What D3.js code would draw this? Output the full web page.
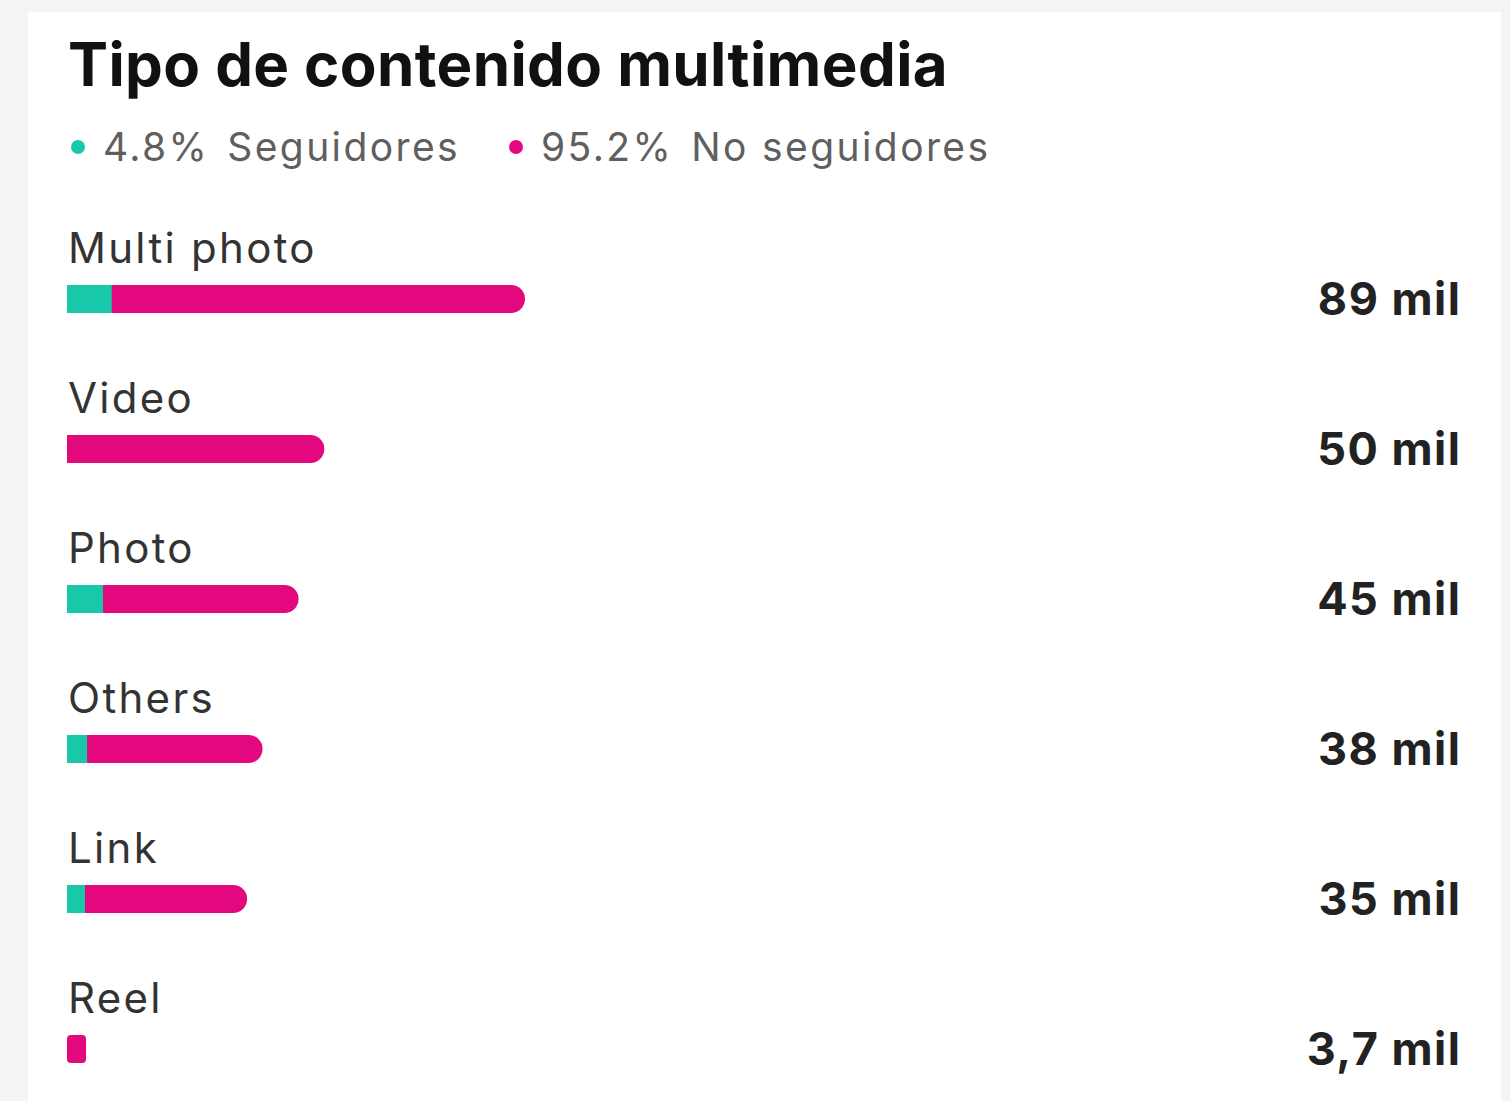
<!DOCTYPE html>
<html>
<head>
<meta charset="utf-8">
<script src="https://cdn.jsdelivr.net/npm/d3@7"></script>
<style>
  html, body { margin: 0; padding: 0; background: #f4f4f4; }
  svg { display: block; }
  text { font-family: Inter, "Noto Sans", sans-serif; }
</style>
</head>
<body>
<svg id="chart" width="1510" height="1101"></svg>
<script>
const title = "Tipo de contenido multimedia";
const seriesNames = ["Seguidores", "No seguidores"];
const seriesShares = ["4.8%", "95.2%"];
const categories = ["Multi photo", "Video", "Photo", "Others", "Link", "Reel"];
const totals = [89, 50, 45, 38, 35, 3.7];           // thousands
const followers = [8.7, 0, 7.0, 3.9, 3.5, 0];        // thousands (teal part)
const valueLabels = ["89 mil", "50 mil", "45 mil", "38 mil", "35 mil", "3,7 mil"];

const colors = { followers: "#19c8a8", others: "#e3087e" };

const svg = d3.select("#chart");

// card
svg.append("rect").attr("x", 28).attr("y", 12).attr("width", 1473).attr("height", 1100)
  .attr("fill", "#ffffff");

// title
svg.append("text").attr("x", 68).attr("y", 86)
  .attr("font-size", 60).attr("font-weight", 700).attr("fill", "#111")
  .attr("letter-spacing", 0.4)
  .text(title);

// legend
const legendX = [78, 516];
const legendColors = [colors.followers, colors.others];
seriesNames.forEach((n, i) => {
  const g = svg.append("g").attr("transform", `translate(${legendX[i]},147)`);
  g.append("circle").attr("r", 7).attr("fill", legendColors[i]);
  const t = g.append("text").attr("x", 25).attr("y", 14)
    .attr("font-size", 39).attr("fill", "#5f5f5f")
    .attr("letter-spacing", 2.4);
  t.append("tspan").text(seriesShares[i]);
  t.append("tspan").attr("dx", 18).text(n);
});

const y = d3.scaleBand().domain(categories).range([224, 1124]).paddingInner(0);
const x = d3.scaleLinear().domain([0, 89]).range([67, 525]);
const barH = 28;

const rows = svg.selectAll("g.row").data(categories).join("g").attr("class", "row")
  .attr("transform", d => `translate(0,${y(d)})`);

rows.append("text").attr("x", 68).attr("y", 39)
  .attr("font-size", 42).attr("fill", "#333")
  .attr("letter-spacing", 2.3)
  .text(d => d);

function roundedRight(x0, x1, yc, h) {
  const r = Math.min(h / 2, (x1 - x0));
  const p = d3.path();
  p.moveTo(x0, yc - h / 2);
  p.lineTo(x1 - r, yc - h / 2);
  p.arc(x1 - r, yc, r, -Math.PI / 2, Math.PI / 2);
  p.lineTo(x0, yc + h / 2);
  p.closePath();
  return p.toString();
}

const barCy = 75;
rows.filter((d, i) => x(totals[i]) - x(0) >= barH).append("path")
  .attr("d", d => {
    const i = categories.indexOf(d);
    return roundedRight(x(0), x(totals[i]), barCy, barH);
  })
  .attr("fill", colors.others);

// small bars (narrower than height): rounded rect
rows.filter((d, i) => x(totals[i]) - x(0) < barH).append("rect")
  .attr("x", x(0)).attr("y", barCy - barH / 2)
  .attr("width", d => x(totals[categories.indexOf(d)]) - x(0))
  .attr("height", barH).attr("rx", 4).attr("fill", colors.others);

rows.append("rect")
  .attr("x", x(0)).attr("y", barCy - barH / 2)
  .attr("width", (d, i) => x(followers[i]) - x(0))
  .attr("height", barH).attr("fill", colors.followers);

rows.append("text").attr("x", 1461.5).attr("y", 91)
  .attr("text-anchor", "end")
  .attr("font-size", 45).attr("font-weight", 700).attr("fill", "#222")
  .attr("letter-spacing", 1.5)
  .text((d, i) => valueLabels[i]);
</script>
</body>
</html>
